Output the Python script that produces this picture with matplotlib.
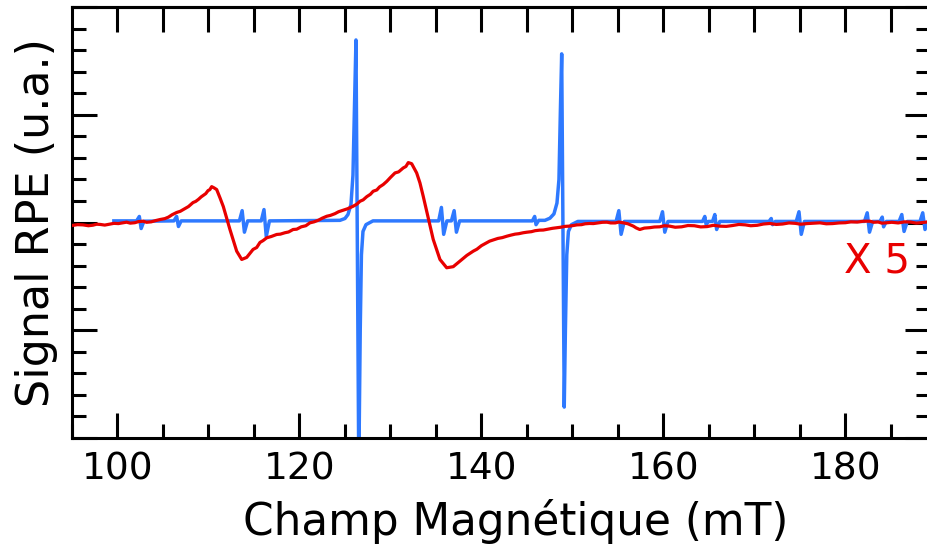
import numpy as np
import matplotlib
matplotlib.use('Agg')
from matplotlib import pyplot as plt
from matplotlib.ticker import MultipleLocator

# Spectre RPE (bleu) : champ (mT), signal (u.a.)
blue_x = [99.6, 102.1, 102.4, 102.6, 102.9,
          106.2, 106.5, 106.7, 107.0,
          113.4, 113.7, 113.95, 114.3,
          115.8, 116.1, 116.35, 116.7,
          124.45, 125.0, 125.33, 125.66, 125.88, 126.04, 126.21, 126.35, 126.52,
          126.68, 126.81, 126.98, 127.31, 128.08,
          135.3, 135.6, 135.85, 136.2,
          136.7, 137.0, 137.25, 137.6,
          145.6, 145.85, 146.0, 146.3,
          146.98, 147.53, 147.97, 148.3, 148.52, 148.68, 148.82, 148.96, 149.1,
          149.23, 149.38, 149.56, 149.89, 150.6,
          154.8, 155.1, 155.35, 155.7,
          159.6, 159.9, 160.15, 160.5,
          164.3, 164.55, 164.7, 164.95,
          165.4, 165.65, 165.85, 166.2,
          171.6, 171.85, 172.0, 172.3,
          174.6, 174.9, 175.15, 175.5,
          182.1, 182.4, 182.65, 183.0,
          183.8, 184.05, 184.2, 184.5,
          185.9, 186.2, 186.45, 186.8,
          188.2, 188.5, 188.75, 189.1, 189.4]
blue_y = [0.015, 0.015, 0.056, -0.056, 0.012,
          0.015, 0.056, -0.037, 0.015,
          0.015, 0.11, -0.09, 0.015,
          0.015, 0.12, -0.13, 0.015,
          0.02, 0.037, 0.074, 0.167, 0.44, 1.05, 1.694, -0.06, -2.3,
          -0.99, -0.30, -0.083, -0.02, 0.015,
          0.015, 0.14, -0.11, 0.015,
          0.015, 0.11, -0.09, 0.015,
          0.015, 0.056, -0.02, 0.02,
          0.02, 0.04, 0.08, 0.18, 0.40, 1.05, 1.565, -0.06, -1.713,
          -0.99, -0.30, -0.083, -0.02, 0.01,
          0.01, 0.11, -0.11, 0.01,
          0.01, 0.10, -0.09, 0.01,
          0.01, 0.056, -0.02, 0.01,
          0.01, 0.074, -0.065, 0.01,
          0.01, 0.037, -0.02, 0.01,
          0.01, 0.10, -0.11, 0.01,
          0.01, 0.09, -0.09, 0.01,
          0.01, 0.05, -0.04, 0.01,
          0.01, 0.074, -0.083, 0.01,
          0.01, 0.09, -0.065, 0.01, 0.01]

# Spectre RPE (rouge, x 5)
red_x = [95.0, 95.6, 96.2, 96.8, 97.3, 97.7, 98.1, 98.6, 99.2, 99.6, 100.1, 100.5,
         101.0, 101.4, 101.9, 102.3, 102.8, 103.2, 103.7, 104.2, 104.7,
         105.2, 105.6, 106.0, 106.5, 106.9, 107.4, 107.8, 108.3, 108.6, 108.9,
         109.2, 109.4, 109.7, 109.95, 110.15, 110.35, 110.6, 110.9, 111.26,
         111.63, 112.36, 113.1, 113.65, 114.2, 114.9, 115.3, 115.66, 116.0, 116.4,
         116.9, 117.5, 117.9, 118.4, 118.8, 119.3, 119.7, 120.2, 120.7, 121.15,
         121.6, 122.1, 122.5, 123.0, 123.4, 123.9, 124.3, 124.8, 125.3, 125.9,
         126.3, 126.65, 127.0, 127.4, 127.8, 128.1, 128.5, 128.8, 129.2, 129.6,
         130.0, 130.5, 130.9, 131.4, 131.7, 131.96, 132.33, 132.88, 133.24, 133.6,
         133.98, 134.7, 135.44, 136.18, 136.9, 137.64, 138.4, 139.1, 139.5, 140.0,
         140.4, 140.9, 141.3, 141.8, 142.3, 142.8, 143.2, 143.7, 144.1, 144.6,
         145.0, 145.5, 145.9, 146.4, 146.8, 147.3, 147.8, 148.3, 148.7, 149.2,
         149.6, 150.1, 150.5, 151.0, 151.4, 151.9, 152.3, 152.8, 153.3, 153.8,
         154.2, 154.7, 155.1, 155.6, 156.1, 156.7, 157.0, 157.4, 157.9, 158.5,
         159.0, 159.6, 160.1, 160.7, 161.3, 162.0, 162.7, 163.4, 164.1, 164.8,
         165.5, 166.2, 166.9, 167.6, 168.3, 169.0, 169.6, 170.3, 171.0, 171.7,
         172.4, 173.1, 173.8, 174.5, 175.1, 175.8, 176.5, 177.2, 177.9, 178.6,
         179.3, 180.0, 180.6, 181.3, 182.0, 182.7, 183.1, 183.6, 184.0, 184.5,
         185.1, 185.8, 186.5, 187.2, 187.8, 188.3, 188.9, 189.4]
red_y = [-0.028, -0.020, -0.022, -0.030, -0.025, -0.016, -0.018, -0.024, -0.014, -0.008, -0.010, -0.004,
         0.003, -0.006, -0.002, 0.008, 0.012, 0.002, 0.006, 0.018, 0.028,
         0.036, 0.050, 0.072, 0.093, 0.104, 0.128, 0.148, 0.185, 0.196, 0.215,
         0.238, 0.250, 0.268, 0.296, 0.305, 0.333, 0.322, 0.306, 0.230,
         0.148, -0.065, -0.266, -0.343, -0.324, -0.250, -0.232, -0.185, -0.168, -0.142,
         -0.130, -0.111, -0.108, -0.095, -0.088, -0.065, -0.062, -0.040, -0.030, -0.003,
         0.006, 0.022, 0.040, 0.058, 0.066, 0.082, 0.100, 0.114, 0.128, 0.151,
         0.170, 0.197, 0.210, 0.240, 0.262, 0.290, 0.302, 0.330, 0.352, 0.382,
         0.418, 0.460, 0.470, 0.506, 0.520, 0.556, 0.546, 0.460, 0.368, 0.244,
         0.105, -0.157, -0.343, -0.420, -0.410, -0.358, -0.305, -0.266, -0.248, -0.215,
         -0.196, -0.173, -0.162, -0.148, -0.140, -0.127, -0.118, -0.108, -0.104, -0.095,
         -0.090, -0.085, -0.076, -0.071, -0.070, -0.062, -0.054, -0.049, -0.044, -0.036,
         -0.034, -0.028, -0.022, -0.020, -0.012, -0.009, -0.010, -0.004, 0.002, 0.003,
         -0.004, -0.004, 0.004, -0.003, -0.012, -0.034, -0.050, -0.065, -0.052, -0.048,
         -0.042, -0.040, -0.030, -0.034, -0.044, -0.040, -0.028, -0.030, -0.041, -0.038,
         -0.026, -0.034, -0.036, -0.028, -0.018, -0.022, -0.030, -0.026, -0.014, -0.009,
         -0.018, -0.014, -0.004, -0.008, -0.016, -0.010, -0.006, -0.003, -0.012, -0.010,
         -0.004, -0.002, 0.006, 0.004, 0.012, 0.012, 0.002, 0.005, -0.006, -0.003,
         0.002, -0.004, 0.006, 0.004, -0.006, -0.002, 0.004, 0.003]

x_ticks = [100, 120, 140, 160, 180]

fig = plt.figure(figsize=(9.28, 5.5), dpi=100)
ax = fig.add_axes([72 / 928, 1 - 438 / 550, 858 / 928, 431 / 550])

ax.plot(blue_x, blue_y, color='#2e79ff', lw=2.5, zorder=2)
ax.plot(red_x, red_y, color='#e80000', lw=2.3, zorder=3)

ax.set_xlim(95, 189.3)
ax.set_ylim(-2, 2)
ax.set_xticks(x_ticks)
ax.xaxis.set_minor_locator(MultipleLocator(5))
ax.yaxis.set_major_locator(MultipleLocator(1))
ax.yaxis.set_minor_locator(MultipleLocator(0.2))
ax.tick_params(which='both', direction='in', width=2.2, right=True, top=False,
               labelleft=False, labelsize=27, pad=10)
ax.tick_params(which='major', length=18)
ax.tick_params(which='minor', length=10)

top = ax.secondary_xaxis('top')
top.set_xticks(np.arange(100, 190, 5))
top.tick_params(direction='in', length=18, width=2.2, labeltop=False)
top.spines['top'].set_linewidth(2.2)

for sp in ax.spines.values():
    sp.set_linewidth(2.2)

ax.set_xlabel('Champ Magnétique (mT)', fontsize=31.5, labelpad=8)
ax.xaxis.label.set_x(0.517)
ax.set_ylabel('Signal RPE (u.a.)', fontsize=32, labelpad=10)
ax.text(183.5, -0.36, 'X 5', color='#e80000', fontsize=29, ha='center', va='center')

fig.savefig('out.png', dpi=100)
